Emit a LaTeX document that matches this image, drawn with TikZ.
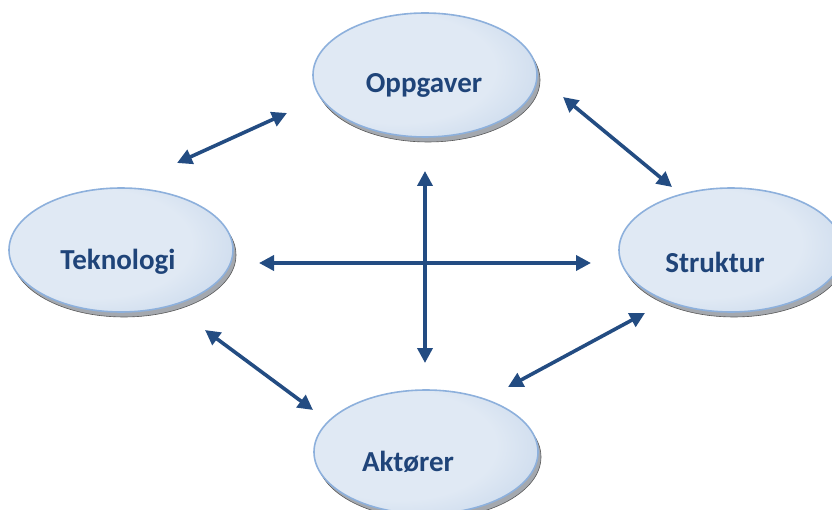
\documentclass[tikz,border=0pt]{standalone}
\usepackage{fontspec}
\setmainfont{Carlito}
\usetikzlibrary{shapes.geometric,arrows.meta}

\definecolor{ovalhi}{HTML}{E0E9F4}
\definecolor{ovallo}{HTML}{AEC5E2}
\definecolor{ovalrim}{HTML}{8DB0DC}
\definecolor{labelblue}{HTML}{1F4479}
\definecolor{arrowblue}{HTML}{234C82}
\definecolor{shadowgray}{HTML}{A4A8AE}

% soft light spot towards the upper left of each oval
\pgfdeclareradialshading{ovalfill}{\pgfpoint{-10bp}{4bp}}{%
  color(0bp)=(ovalhi); color(22bp)=(ovalhi); color(50bp)=(ovallo); color(60bp)=(ovallo)}

\tikzset{
  oval/.style={ellipse, minimum width=224pt, minimum height=124pt, inner sep=0pt,
    shading=ovalfill, draw=ovalrim, line width=1.6pt},
  ovalshadow/.style={ellipse, minimum width=224pt, minimum height=124pt, inner sep=0pt,
    fill=shadowgray, draw=gray!70!black, line width=0.6pt},
  caption/.style={font=\bfseries\fontsize{29}{32}\selectfont, text=labelblue},
  link/.style={arrowblue, line width=3.6pt,
    {Triangle[length=15pt,width=15pt]}-{Triangle[length=15pt,width=15pt]}}
}

\begin{document}
\begin{tikzpicture}[x=1pt,y=-1pt]
  \useasboundingbox (0,0) rectangle (832,510);

  % drop shadows under the ovals
  \node[ovalshadow] at (428,80) {};
  \node[ovalshadow] at (124,255) {};
  \node[ovalshadow] at (734,255) {};
  \node[ovalshadow] at (429,457) {};

  % the four ovals
  \node[oval] (opp) at (425,75) {};
  \node[oval] (tek) at (121,250) {};
  \node[oval] (str) at (731,250) {};
  \node[oval] (akt) at (426,452) {};

  % their captions
  \node[caption] (toppl) at (424,85) {Oppgaver};
  \node[caption] (ttek) at (118,262) {Teknologi};
  \node[caption] (tstr) at (715,262) {Struktur};
  \node[caption] (takt) at (408,462) {Aktører};

  % arrow end points
  \coordinate (a1) at (287,113);
  \coordinate (a2) at (177,163);
  \coordinate (b1) at (563,97);
  \coordinate (b2) at (672,187);
  \coordinate (c1) at (205,330);
  \coordinate (c2) at (313,410);
  \coordinate (d1) at (645,313);
  \coordinate (d2) at (508,387);
  \coordinate (h1) at (259,263);
  \coordinate (h2) at (591,263);
  \coordinate (v1) at (425,171);
  \coordinate (v2) at (425,363);

  \draw[link] (a1) -- (a2);
  \draw[link] (b1) -- (b2);
  \draw[link] (c1) -- (c2);
  \draw[link] (d1) -- (d2);
  \draw[link] (h1) -- (h2);
  \draw[link] (v1) -- (v2);
\end{tikzpicture}
\end{document}
